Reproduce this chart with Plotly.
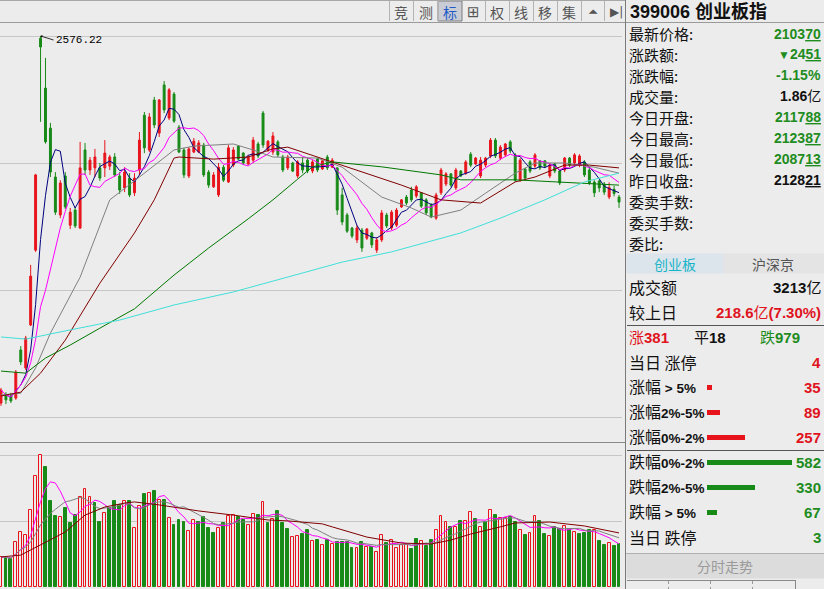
import plotly.graph_objects as go
import pandas as pd

W, H = 824, 589

# ---------------- 数据：创业板指 399006 日K（从截图读出） ----------------
open_ = [1532, 1555, 1552, 1546, 1683, 1632, 1754, 1967, 2570, 2428,
         2314, 2175, 2067, 2178, 2038, 2081, 2030, 2252, 2195, 2201,
         2201, 2201, 2206, 2232, 2178, 2144, 2172, 2130, 2195, 2351,
         2252, 2394, 2300, 2437, 2343, 2411, 2317, 2252, 2178, 2246,
         2246, 2266, 2189, 2147, 2124, 2203, 2161, 2209, 2263, 2243,
         2212, 2223, 2269, 2357, 2252, 2246, 2275, 2232, 2201, 2215,
         2178, 2215, 2223, 2192, 2226, 2198, 2232, 2203, 2201, 2124,
         2067, 2030, 1996, 2024, 2001, 2016, 1967, 1996, 2067, 2030,
         2038, 2090, 2118, 2138, 2121, 2130, 2110, 2095, 2058, 2130,
         2155, 2184, 2144, 2192, 2186, 2240, 2212, 2178, 2209, 2235,
         2280, 2229, 2238, 2275, 2238, 2166, 2198, 2218, 2206, 2221,
         2221, 2178, 2212, 2192, 2195, 2229, 2215, 2209, 2218, 2195,
         2161, 2164, 2155, 2118, 2140, 2117.88]
high_ = [1575, 1563, 1561, 1626, 1694, 1723, 1925, 2184, 2576.22, 2514,
         2329, 2189, 2166, 2189, 2087, 2090, 2275, 2272, 2232, 2255,
         2215, 2280, 2238, 2243, 2189, 2203, 2186, 2186, 2303, 2360,
         2357, 2403, 2397, 2448, 2428, 2417, 2323, 2258, 2260, 2286,
         2280, 2272, 2195, 2189, 2215, 2209, 2266, 2260, 2266, 2246,
         2238, 2289, 2275, 2363, 2280, 2303, 2280, 2238, 2238, 2218,
         2223, 2232, 2229, 2223, 2229, 2223, 2238, 2229, 2203, 2144,
         2073, 2033, 2038, 2030, 2030, 2019, 2004, 2081, 2073, 2081,
         2087, 2112, 2124, 2147, 2152, 2132, 2115, 2101, 2130, 2201,
         2189, 2186, 2201, 2195, 2223, 2246, 2232, 2232, 2232, 2286,
         2286, 2266, 2272, 2280, 2243, 2229, 2201, 2223, 2243, 2223,
         2223, 2215, 2215, 2195, 2232, 2232, 2243, 2240, 2223, 2201,
         2166, 2166, 2161, 2160, 2150, 2123.87]
low_ = [1524, 1529, 1532, 1541, 1640, 1626, 1751, 1962, 2332, 2270,
        2175, 2067, 2058, 2084, 2027, 2030, 2027, 2181, 2181, 2175,
        2164, 2175, 2195, 2175, 2127, 2132, 2118, 2121, 2181, 2243,
        2246, 2314, 2289, 2357, 2337, 2329, 2243, 2172, 2172, 2243,
        2243, 2175, 2144, 2144, 2118, 2161, 2158, 2203, 2223, 2209,
        2209, 2215, 2229, 2258, 2246, 2238, 2232, 2189, 2195, 2189,
        2172, 2186, 2186, 2186, 2189, 2195, 2195, 2201, 2067, 2038,
        2016, 2001, 1987, 1962, 1996, 1973, 1959, 1990, 2030, 2024,
        2033, 2087, 2095, 2104, 2115, 2087, 2067, 2058, 2053, 2124,
        2149, 2147, 2138, 2175, 2181, 2203, 2209, 2172, 2203, 2229,
        2229, 2223, 2232, 2243, 2161, 2161, 2166, 2186, 2201, 2195,
        2201, 2172, 2186, 2152, 2189, 2203, 2209, 2203, 2175, 2152,
        2118, 2132, 2124, 2112, 2120, 2087.13]
close_ = [1569, 1541, 1538, 1620, 1649, 1717, 1893, 2181, 2545, 2275,
          2189, 2075, 2158, 2090, 2075, 2036, 2201, 2195, 2223, 2232,
          2172, 2243, 2232, 2181, 2138, 2189, 2124, 2172, 2280, 2258,
          2346, 2323, 2394, 2366, 2423, 2334, 2246, 2181, 2255, 2277,
          2272, 2181, 2152, 2181, 2203, 2166, 2258, 2252, 2226, 2215,
          2232, 2280, 2235, 2266, 2277, 2292, 2238, 2195, 2232, 2192,
          2218, 2195, 2192, 2218, 2195, 2221, 2201, 2223, 2081, 2047,
          2021, 2007, 2030, 1973, 2027, 1982, 1996, 2073, 2036, 2075,
          2081, 2110, 2101, 2110, 2147, 2092, 2073, 2061, 2124, 2195,
          2184, 2152, 2195, 2178, 2218, 2209, 2229, 2223, 2229, 2280,
          2235, 2260, 2269, 2249, 2166, 2223, 2172, 2192, 2238, 2201,
          2206, 2209, 2192, 2158, 2229, 2209, 2238, 2235, 2181, 2158,
          2130, 2144, 2132, 2145, 2128.21, 2103.70]

# 成交量（亿），vol_up: 1=红色空心 0=绿色实心
volume = [1.30, 1.26, 1.21, 1.95, 2.38, 2.25, 3.33, 4.80, 5.71, 5.19,
          3.72, 3.07, 3.03, 3.42, 2.77, 3.12, 3.90, 4.24, 3.90, 3.64,
          2.81, 3.20, 3.42, 3.72, 3.55, 3.72, 3.72, 2.55, 3.51, 4.03,
          4.07, 4.16, 3.77, 3.77, 2.99, 2.68, 2.90, 2.81, 2.42, 2.90,
          2.81, 3.03, 2.55, 2.34, 2.55, 2.77, 3.07, 3.12, 3.03, 2.90,
          2.68, 3.16, 3.12, 3.68, 2.77, 2.94, 3.29, 2.77, 2.51, 2.16,
          2.21, 2.29, 2.47, 1.99, 2.03, 1.82, 2.03, 1.86, 1.95, 1.95,
          1.95, 1.69, 1.69, 1.95, 1.73, 1.73, 1.52, 2.25, 1.90, 2.03,
          1.69, 1.82, 1.82, 1.64, 2.08, 1.99, 1.77, 2.03, 2.47, 3.07,
          2.81, 2.60, 2.60, 2.86, 2.86, 3.24, 2.94, 2.60, 2.81, 3.33,
          3.12, 2.99, 2.99, 3.03, 2.81, 2.47, 2.25, 2.34, 3.07, 2.86,
          2.29, 2.21, 2.60, 2.51, 2.64, 2.51, 2.38, 2.29, 2.34, 2.47,
          2.47, 1.99, 1.82, 1.90, 1.77, 1.86]
vol_up = [1, 0, 0, 1, 1, 1, 1, 1, 1, 0,
          0, 0, 1, 0, 0, 0, 1, 1, 1, 0,
          0, 1, 0, 0, 0, 1, 0, 1, 1, 0,
          1, 0, 1, 0, 1, 0, 0, 0, 1, 1,
          0, 0, 0, 0, 1, 0, 1, 1, 0, 0,
          1, 1, 0, 1, 0, 1, 0, 0, 0, 1,
          1, 0, 0, 1, 0, 1, 0, 1, 0, 0,
          0, 0, 1, 0, 1, 0, 1, 1, 0, 1,
          1, 1, 1, 0, 0, 1, 0, 0, 1, 1,
          1, 0, 1, 0, 1, 1, 0, 1, 0, 1,
          0, 1, 1, 0, 0, 1, 0, 1, 1, 0,
          0, 1, 0, 0, 1, 0, 1, 0, 0, 0,
          1, 0, 0, 1, 0, 0]

# 长周期均线：窗口外还有历史数据，所以直接从图上读取采样点
ma20_idx = [0, 4, 7, 10, 16, 22, 28, 35, 39, 47, 51, 55, 64, 69, 77, 83, 87, 93, 98, 104, 108, 114, 120, 125]
ma20_val = [1555, 1560, 1632, 1731, 1890, 2110, 2175, 2252, 2263, 2269, 2252, 2232,
            2229, 2203, 2118, 2087, 2061, 2081, 2129, 2186, 2215, 2215, 2203, 2186]
ma30_idx = [0, 4, 8, 13, 20, 27, 31, 35, 36, 43, 50, 55, 58, 64, 67, 74, 81, 89, 97, 104, 108, 114, 119, 125]
ma30_val = [1552, 1563, 1617, 1711, 1873, 2016, 2110, 2229, 2232, 2226, 2232, 2255,
            2260, 2232, 2218, 2186, 2152, 2110, 2101, 2161, 2175, 2209, 2209, 2201]
ma60_idx = [0, 5, 9, 14, 20, 27, 35, 42, 50, 55, 60, 63, 67, 77, 89, 93, 104, 118, 125]
ma60_val = [1623, 1617, 1660, 1697, 1745, 1800, 1896, 1973, 2056, 2110, 2169, 2204,
            2218, 2204, 2181, 2167, 2167, 2158, 2152]
ma120_idx = [0, 5, 14, 24, 35, 47, 61, 69, 79, 93, 101, 110, 118, 125]
ma120_val = [1720, 1714, 1740, 1768, 1811, 1848, 1902, 1933, 1962, 2016, 2058, 2110, 2161, 2186]
vma20_idx = [0, 4, 6, 10, 13, 17, 21, 25, 27, 32, 40, 47, 54, 58, 65, 67, 74, 81, 87, 91, 95, 101, 104, 111, 118, 125]
vma20_val = [1.30, 1.38, 1.60, 2.03, 2.38, 3.11, 3.46, 3.63, 3.68, 3.55, 3.29, 3.11, 2.90,
             2.86, 2.73, 2.60, 2.16, 1.90, 1.86, 2.03, 2.29, 2.60, 2.77, 2.81, 2.64, 2.34]

# 右侧面板
code_name = "399006 创业板指"
turnover = 3213          # 亿
turnover_chg = 218.6     # 亿
turnover_pct = 7.30
n_flat = 18
limit_up, limit_down = 4, 3
bucket_labels = ["涨幅 > 5%", "涨幅2%-5%", "涨幅0%-2%", "跌幅0%-2%", "跌幅2%-5%", "跌幅 > 5%"]
bucket_counts = [35, 89, 257, 582, 330, 67]
toolbar = ["竞", "测", "标", "⊞", "权", "线", "移", "集", "⏶", "▶|"]

# ---------------- 样式 ----------------
BG = "#ECECEC"
RED = "#E8141C"
GREEN = "#178A17"
TXT_RED = "#E0141E"
TXT_GREEN = "#1E8C1E"
BLACK = "#111111"
CJK = "Noto Sans CJK SC"
NUM = "Liberation Sans, Noto Sans CJK SC"


def px(x):
    return x / W


def py(y):
    return 1 - y / H


days = list(range(len(close_)))
s_close = pd.Series(close_)
s_vol = pd.Series(volume)
ma5 = s_close.rolling(5, min_periods=1).mean()
ma10 = s_close.rolling(10, min_periods=1).mean()
vma5 = s_vol.rolling(5, min_periods=1).mean()
vma10 = s_vol.rolling(10, min_periods=1).mean()

fig = go.Figure()

# K线
fig.add_trace(go.Candlestick(
    x=days, open=open_, high=high_, low=low_, close=close_,
    increasing=dict(line=dict(color=RED, width=1), fillcolor=RED),
    decreasing=dict(line=dict(color=GREEN, width=1), fillcolor=GREEN),
    whiskerwidth=0, xaxis="x", yaxis="y", hoverinfo="skip"))

# 均线
price_lines = [
    (days, ma5, "#00007F"),
    (days, ma10, "#FF00FF"),
    (ma20_idx, ma20_val, "#808080"),
    (ma30_idx, ma30_val, "#800000"),
    (ma60_idx, ma60_val, "#007800"),
    (ma120_idx, ma120_val, "#40E0D8"),
]
for xs, ys, c in price_lines:
    fig.add_trace(go.Scatter(x=xs, y=ys, mode="lines", line=dict(color=c, width=1),
                             xaxis="x", yaxis="y", hoverinfo="skip"))

# 成交量
fill = [BG if u else GREEN for u in vol_up]
edge = [RED if u else GREEN for u in vol_up]
fig.add_trace(go.Bar(x=days, y=volume, width=0.58,
                     marker=dict(color=fill, line=dict(color=edge, width=1)),
                     xaxis="x2", yaxis="y2", hoverinfo="skip"))
for xs, ys, c in [(days, vma5, "#FF00FF"), (days, vma10, "#808080"), (vma20_idx, vma20_val, "#800000")]:
    fig.add_trace(go.Scatter(x=xs, y=ys, mode="lines", line=dict(color=c, width=1),
                             xaxis="x2", yaxis="y2", hoverinfo="skip"))

# 右侧涨跌分布条
fig.add_trace(go.Bar(x=bucket_counts, y=bucket_labels, orientation="h", width=0.22,
                     marker=dict(color=[RED] * 3 + [GREEN] * 3, line=dict(width=0)),
                     xaxis="x3", yaxis="y3", hoverinfo="skip"))

# ---------------- 坐标轴 ----------------
top = max(high_)
k = 2.845                       # 每像素点数
y_range = [top - (442 - 36) * k, top + (36 - 22) * k]
grid = [top - i * 127 * k for i in range(4)]
vk = max(volume) / 132
v_range = [-2 * vk, (587 - 445) * vk]

shapes, annos = [], []


def hline(y, x0, x1, color, width=1, dash="solid"):
    shapes.append(dict(type="line", xref="paper", yref="paper", x0=px(x0), x1=px(x1),
                       y0=py(y), y1=py(y), line=dict(color=color, width=width, dash=dash)))


def vline(x, y0, y1, color, width=1, dash="solid"):
    shapes.append(dict(type="line", xref="paper", yref="paper", x0=px(x), x1=px(x),
                       y0=py(y0), y1=py(y1), line=dict(color=color, width=width, dash=dash)))


def rect(x0, y0, x1, y1, fill, line=None):
    shapes.append(dict(type="rect", xref="paper", yref="paper", x0=px(x0), x1=px(x1),
                       y0=py(y1), y1=py(y0), fillcolor=fill, layer="below",
                       line=dict(color=line or fill, width=1)))


def text(x, y, s, size=15, color=BLACK, anchor="left", family=CJK):
    annos.append(dict(x=px(x), y=py(y), xref="paper", yref="paper", text=s, showarrow=False,
                      xanchor=anchor, yanchor="middle", font=dict(size=size, color=color, family=family)))


# 边框线
hline(0.5, 0, 625, "#A8A8A8")
hline(22.5, 0, 625, "#9A9A9A")
hline(442.5, 0, 625, "#8A8A8A")
vline(625.5, 0, 589, "#7A7A7A")

# 工具栏按钮
edges = [389, 413, 438, 462, 485, 509, 533, 557, 581, 604, 628]
for i, lab in enumerate(toolbar):
    x0, x1 = edges[i], edges[i + 1]
    if lab == "标":
        rect(x0, 1, x1, 21, "#C9CCD4", "#7C7C7C")
    vline(x0 + 0.5, 1, 21, "#B4B4B4")
    c = "#1E5AC8" if lab == "标" else "#555555"
    fam = CJK if len(lab) == 1 and lab >= "\u4e00" else "DejaVu Sans"
    size = 14 if fam == CJK else (15 if lab == "⊞" else 12)
    text((x0 + x1) / 2, 11.5, lab, size=size, color=c, anchor="center", family=fam)

# 最高价标注
peak = high_.index(top)
annos.append(dict(x=peak, y=top, xref="x", yref="y", text=f"{top:.2f}", showarrow=True,
                  arrowhead=1, arrowsize=0.7, arrowwidth=0.8, arrowcolor="#000",
                  ax=13, ay=4, xanchor="left", yanchor="middle",
                  font=dict(family="Liberation Mono", size=11, color="#000")))

# ---------------- 右侧面板 ----------------
last, prev = close_[-1], close_[-2]
chg = last - prev
pct = chg / prev * 100


def price_txt(v):
    a, b = f"{v:.2f}".split(".")
    return f"<b>{a}<u>{b}</u></b>"


def col(v):
    return TXT_GREEN if v < prev else (TXT_RED if v > prev else BLACK)


hline(22.5, 626, 824, "#9A9A9A")
text(628, 12, f"<b>{code_name}</b>", size=18, color=BLACK, family=NUM)

arrow = "<span style='font-size:12px'>▼</span>" if chg < 0 else "<span style='font-size:12px'>▲</span>"
info = [
    ("最新价格:", price_txt(last), col(last)),
    ("涨跌额:", arrow + price_txt(abs(chg)), col(last)),
    ("涨跌幅:", f"<b>{pct:.2f}%</b>", col(last)),
    ("成交量:", f"<b>{volume[-1]:.2f}</b>亿", BLACK),
    ("今日开盘:", price_txt(open_[-1]), col(open_[-1])),
    ("今日最高:", price_txt(high_[-1]), col(high_[-1])),
    ("今日最低:", price_txt(low_[-1]), col(low_[-1])),
    ("昨日收盘:", price_txt(prev), BLACK),
    ("委卖手数:", "", BLACK),
    ("委买手数:", "", BLACK),
    ("委比:", "", BLACK),
]
for i, (lab, val, c) in enumerate(info):
    y = 33.5 + i * 20.95
    text(627, y, lab, size=15)
    if val:
        text(823, y, val, size=14, color=c, anchor="right", family=NUM)

# 标签页
rect(627, 254, 724, 273, "#DCE4EC")
rect(724, 254, 824, 273, "#E4E4E4")
text(675, 264, "创业板", size=14, color="#18B4C8", anchor="center")
text(773, 264, "沪深京", size=14, color="#555555", anchor="center")

text(627, 287, "成交额", size=16)
text(823, 287, f"<b>{turnover}</b>亿", size=15, color=BLACK, anchor="right", family=NUM)
text(627, 312, "较上日", size=16)
text(823, 312, f"<b>{turnover_chg}</b>亿<b>({turnover_pct:.2f}%)</b>", size=15,
     color=TXT_RED, anchor="right", family=NUM)
hline(325.5, 627, 824, "#555555")

n_up = sum(bucket_counts[:3])
n_down = sum(bucket_counts[3:])
text(627, 337, f"涨<b>{n_up}</b>", size=15, color=TXT_RED, family=NUM)
text(692, 337, f"平<b>{n_flat}</b>", size=15, color=BLACK, family=NUM)
text(758, 337, f"跌<b>{n_down}</b>", size=15, color=TXT_GREEN, family=NUM)

text(627, 362, "当日 涨停", size=16)
text(823, 362, f"<b>{limit_up}</b>", size=15, color=TXT_RED, anchor="right", family=NUM)
for i, (lab, n) in enumerate(zip(bucket_labels, bucket_counts)):
    y = 387 + i * 25
    head, tail = lab[:2], lab[2:]
    text(627, y, f"{head}<span style='font-size:13.5px'><b>{tail}</b></span>", size=16, family=NUM)
    text(823, y, f"<b>{n}</b>", size=15, color=TXT_RED if i < 3 else TXT_GREEN,
         anchor="right", family=NUM)
hline(450.5, 627, 824, "#555555")
text(627, 537, "当日 跌停", size=16)
text(823, 537, f"<b>{limit_down}</b>", size=15, color=TXT_GREEN, anchor="right", family=NUM)

# 分时走势按钮 + 底部小表格
hline(553.5, 626, 824, "#B0B0B0")
rect(627, 554, 824, 578, "#DCDCDC")
text(725, 566, "分时走势", size=14, color="#9A9A9A", anchor="center")
hline(580.5, 627, 795, "#888888")
vline(795.5, 580, 589, "#888888")
for xv in [668, 710, 752]:
    vline(xv + 0.5, 581, 589, "#999999", dash="dot")

fig.update_layout(
    width=W, height=H, autosize=False,
    margin=dict(l=0, r=0, t=0, b=0),
    paper_bgcolor=BG, plot_bgcolor=BG,
    showlegend=False, boxgap=0.45, bargap=0,
    xaxis=dict(domain=[0, px(622)], range=[-0.2, 125.6], visible=False,
               rangeslider=dict(visible=False), anchor="y"),
    yaxis=dict(domain=[py(442), py(22)], range=y_range, tickvals=grid, showticklabels=False,
               ticks="", showgrid=True, gridcolor="#C6C6C6", gridwidth=1, zeroline=False,
               showline=False, anchor="x"),
    xaxis2=dict(domain=[0, px(622)], range=[-0.2, 125.6], visible=False, anchor="y2"),
    yaxis2=dict(domain=[0, py(445)], range=v_range, tickvals=[max(volume) / 2, max(volume)],
                showticklabels=False, ticks="", showgrid=True, gridcolor="#C6C6C6",
                zeroline=False, showline=False, anchor="x2"),
    xaxis3=dict(domain=[px(707), px(792)], range=[0, max(bucket_counts)], visible=False, anchor="y3"),
    yaxis3=dict(domain=[py(524.5), py(374.5)], type="category", categoryorder="array",
                categoryarray=bucket_labels, autorange="reversed", visible=False, anchor="x3"),
    shapes=shapes, annotations=annos,
)

# 页面去掉 body 默认 8px 边距，让图正好贴满窗口
fig.write_html("out.html", config={"displayModeBar": False},
               post_script="document.body.style.margin='0';document.body.style.overflow='hidden';")
